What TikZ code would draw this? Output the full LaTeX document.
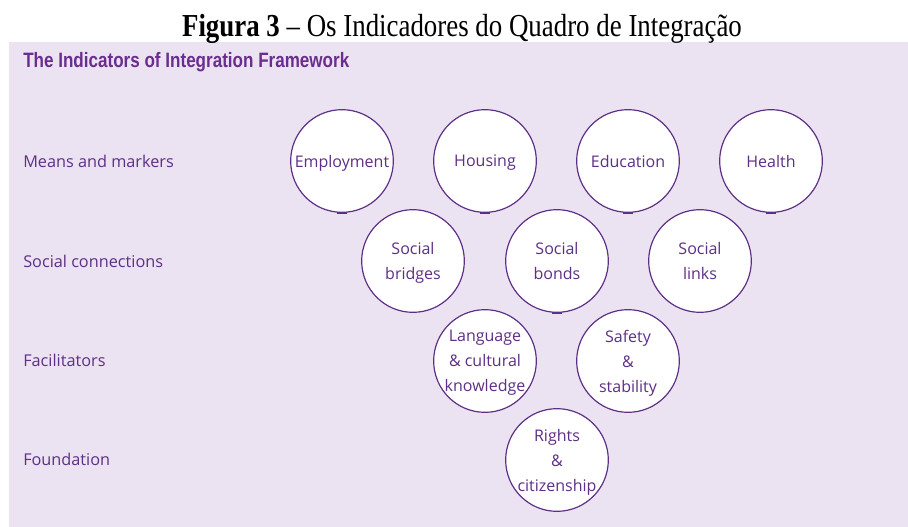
\documentclass[tikz,border=0pt]{standalone}
\usepackage{fontspec}
\setmainfont{Liberation Serif}
\newfontfamily\capfont[FakeStretch=0.84]{Liberation Serif}
\newfontfamily\framefont{Open Sans}
\newfontfamily\titlefont[FakeStretch=0.82]{Liberation Sans}
\usetikzlibrary{positioning}

\definecolor{panelbg}{HTML}{EBE3F1}
\definecolor{framepurple}{HTML}{5E2F86}
\definecolor{titlepurple}{HTML}{6B2D90}

\tikzset{
  indicator/.style={circle, draw=framepurple, line width=0.9pt, fill=white,
    minimum size=77pt, inner sep=0pt, align=center, text=framepurple,
    text depth=0pt, font=\framefont\fontsize{12}{18.8}\selectfont},
  levellabel/.style={anchor=west, inner sep=0pt, text=framepurple,
    font=\framefont\fontsize{12.2}{14}\selectfont},
  notch/.style={draw=framepurple, line width=1.5pt}
}

\begin{document}
\begin{tikzpicture}[x=0.75pt,y=-0.75pt]
            \useasboundingbox (0,0) rectangle (908,527);
            \fill[panelbg] (9,42) rectangle (908,527);
            \node[anchor=base, inner sep=0pt] (caption) at (462,37) {\capfont\fontsize{24}{26}\selectfont\textbf{Figura 3} – Os Indicadores do Quadro de Integração};
            \node[anchor=base west, inner sep=0pt, text=titlepurple] (title) at (23,68) {\titlefont\bfseries\fontsize{15.6}{17}\selectfont The Indicators of Integration Framework};
            \node[levellabel] (means) at (23,161) {Means and markers};
            \node[levellabel] (social) at (23,261) {Social connections};
            \node[levellabel] (facil) at (23,360) {Facilitators};
            \node[levellabel] (found) at (23,459) {Foundation};
            \node[indicator] (employment) at (342,161) {Employment};
            \node[indicator] (housing) at (485,161) {Housing};
            \node[indicator] (education) at (628,161) {Education};
            \node[indicator] (health) at (771,161) {Health};
            \node[indicator] (bridges) at (413,261) {Social\\bridges};
            \node[indicator] (bonds) at (557,261) {Social\\bonds};
            \node[indicator] (links) at (700,261) {Social\\links};
            \node[indicator] (language) at (485,361) {Language\\\& cultural\\knowledge};
            \node[indicator] (safety) at (628,361) {Safety\\\&\\stability};
            \node[indicator] (rights) at (557,460) {Rights\\\&\\citizenship};
            \foreach \c in {employment,housing,education,health,bonds}
              \draw[notch] ([xshift=-3.5pt]\c.south) -- ([xshift=3.5pt]\c.south);
        \end{tikzpicture}
\end{document}
